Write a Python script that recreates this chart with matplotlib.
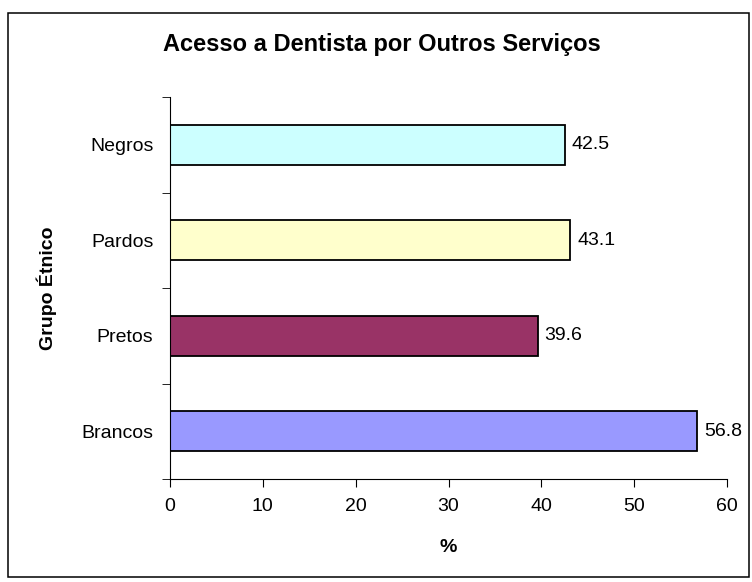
import matplotlib.pyplot as plt
import numpy as np

plt.rcParams['font.family'] = ['Liberation Sans', 'DejaVu Sans']

grupos = ['Brancos', 'Pretos', 'Pardos', 'Negros']
valores = [56.8, 39.6, 43.1, 42.5]
cores = ['#9999FF', '#993366', '#FFFFCC', '#CCFFFF']
x_ticks = [0, 10, 20, 30, 40, 50, 60]

W, H = 752, 582
fig = plt.figure(figsize=(W / 100, H / 100), dpi=100)
# moldura do grafico
fig.patches.append(plt.Rectangle((8 / W, 1 - 577 / H), (749 - 8) / W, (577 - 13) / H,
                                 transform=fig.transFigure, fill=False,
                                 edgecolor='black', linewidth=1.1))

ax = fig.add_axes([170 / W, 1 - 479 / H, (727 - 170) / W, (479 - 97) / H])
y = np.arange(len(grupos))
ax.barh(y, valores, height=0.42, color=cores, edgecolor='black', linewidth=1.3)

for yi, v in zip(y, valores):
    ax.text(v + 0.75, yi, f'{v:.1f}', va='center', ha='left', fontsize=14)

ax.set_xlim(0, 60)
ax.set_ylim(-0.5, len(grupos) - 0.5)
ax.set_xticks(x_ticks)
ax.set_xticklabels([str(t) for t in x_ticks], fontsize=14)
ax.set_yticks(y)
ax.set_yticklabels(grupos, fontsize=14)
ax.tick_params(axis='y', which='major', length=0, pad=12)
ax.set_yticks(np.arange(-0.5, len(grupos)), minor=True)
ax.tick_params(axis='y', which='minor', length=6, direction='out')
ax.tick_params(axis='x', length=6, direction='out', pad=8)

for s in ['top', 'right']:
    ax.spines[s].set_visible(False)

ax.set_xlabel('%', fontsize=14, fontweight='bold', va='center')
ax.xaxis.set_label_coords(0.5, (479 - 548) / (479 - 97))
ax.set_ylabel('Grupo Étnico', fontsize=14, fontweight='bold', va='center')
ax.yaxis.set_label_coords((47 - 170) / (727 - 170), 0.5)

fig.text(382 / W, 1 - 45 / H, 'Acesso a Dentista por Outros Serviços',
         ha='center', va='center', fontsize=17, fontweight='bold')

plt.savefig('out.png', dpi=100)
